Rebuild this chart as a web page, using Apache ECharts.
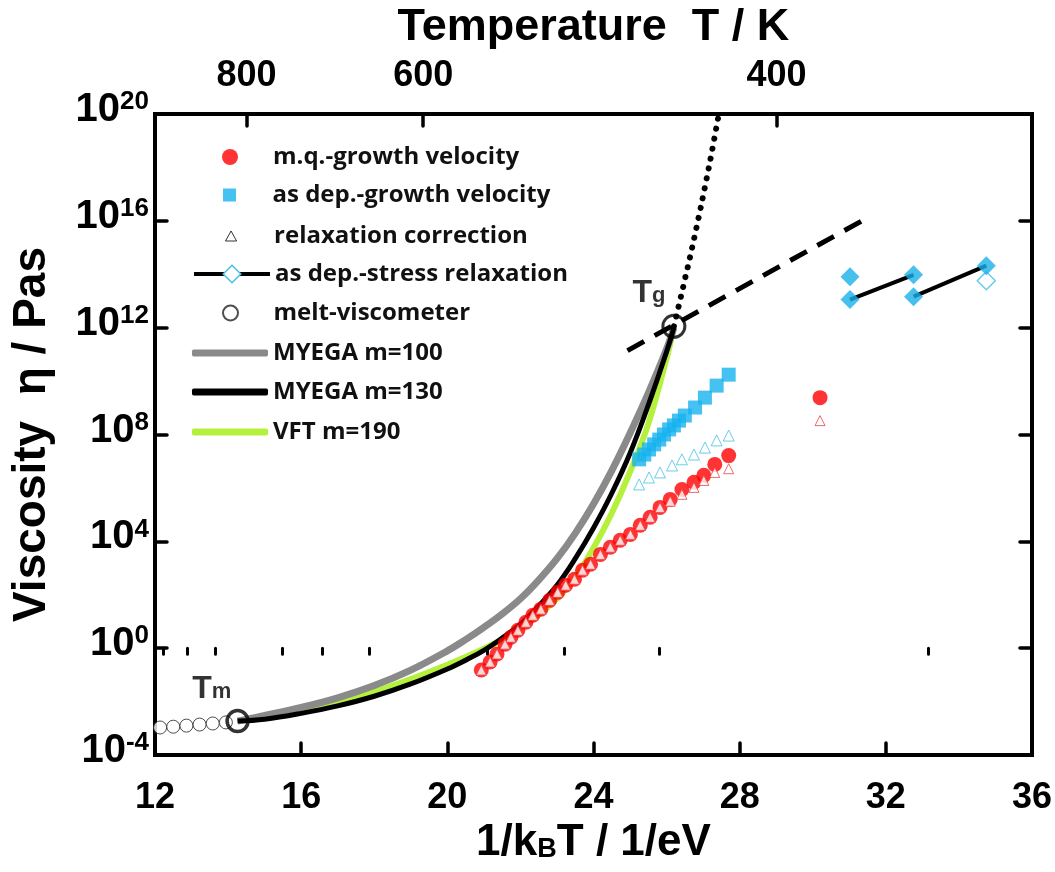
<!DOCTYPE html>
<html>
<head>
<meta charset="utf-8">
<script src="https://cdn.jsdelivr.net/npm/echarts@6.0.0/dist/echarts.min.js"></script>
<style>
  html, body { margin: 0; padding: 0; background: #fff; }
  #chart { width: 1055px; height: 872px; }
</style>
</head>
<body>
<div id="chart"></div>
<script>
// x values are 1/kBT in 1/eV, y values are log10 of the viscosity in Pa s

// melt-viscometer
const meltX = [12.14, 12.50, 12.86, 13.22, 13.58, 13.94];
const meltLog = [-2.97, -2.94, -2.90, -2.86, -2.82, -2.78];

// Tm and Tg markers
const tmPoint = [14.26, -2.73];
const tgPoint = [26.20, 12.05];

// model curves
const curveX = [14.26, 15, 16, 17, 18, 19, 20, 20.5, 21, 21.5, 22, 22.5, 23, 23.5, 24, 24.5, 25, 25.5, 26, 26.2];
const myega100Log = [-2.73, -2.52, -2.22, -1.86, -1.40, -0.82, -0.10, 0.32, 0.78, 1.28, 1.85, 2.55, 3.35, 4.30, 5.40, 6.65, 8.05, 9.55, 11.20, 12.0];
const myega130Log = [-2.73, -2.66, -2.44, -2.16, -1.80, -1.34, -0.78, -0.45, -0.08, 0.38, 0.90, 1.58, 2.35, 3.35, 4.50, 5.80, 7.30, 9.10, 11.10, 12.0];
const vft190Log = [-2.73, -2.60, -2.36, -2.04, -1.64, -1.16, -0.62, -0.33, -0.02, 0.33, 0.75, 1.25, 1.85, 2.65, 3.75, 5.05, 6.60, 8.40, 10.85, 12.0];

// extrapolations through Tg
const dottedX = [26.20, 26.45, 26.70, 26.95, 27.20, 27.43];
const dottedLog = [12.05, 13.5, 15.0, 16.6, 18.3, 20.0];
const dashedX = [24.93, 31.40];
const dashedLog = [11.14, 16.04];

// m.q.-growth velocity and its relaxation correction
const mqX = [20.93, 21.17, 21.36, 21.58, 21.74, 21.93, 22.15, 22.34, 22.56, 22.80, 23.02, 23.24, 23.48, 23.70, 23.92,
  24.19, 24.46, 24.73, 25.01, 25.28, 25.55, 25.82, 26.10, 26.42, 26.75, 27.02, 27.32, 27.70, 30.20];
const mqLog = [-0.82, -0.52, -0.22, 0.15, 0.41, 0.67, 0.97, 1.23, 1.46, 1.79, 2.09, 2.36, 2.58, 2.92, 3.14,
  3.51, 3.78, 4.04, 4.26, 4.60, 4.90, 5.27, 5.57, 5.94, 6.21, 6.47, 6.88, 7.21, 9.38];
const mqRelaxLog = [-0.82, -0.52, -0.22, 0.15, 0.41, 0.67, 0.97, 1.23, 1.46, 1.79, 2.09, 2.36, 2.58, 2.92, 3.14,
  3.51, 3.78, 4.04, 4.26, 4.60, 4.90, 5.27, 5.50, 5.76, 6.02, 6.28, 6.58, 6.72, 8.52];

// as dep.-growth velocity and its relaxation correction
const asDepX = [25.25, 25.39, 25.52, 25.66, 25.80, 25.93, 26.07, 26.20, 26.34, 26.50, 26.78, 27.05, 27.37, 27.70];
const asDepLog = [7.07, 7.25, 7.44, 7.63, 7.81, 8.00, 8.19, 8.34, 8.52, 8.71, 9.01, 9.38, 9.83, 10.24];
const asDepRelaxX = [25.25, 25.52, 25.82, 26.15, 26.42, 26.75, 27.05, 27.37, 27.70];
const asDepRelaxLog = [6.13, 6.39, 6.58, 6.84, 7.07, 7.25, 7.51, 7.78, 7.96];

// as dep.-stress relaxation
const stressX = [31.02, 31.02, 32.76, 32.76, 34.75];
const stressLog = [13.91, 13.05, 13.98, 13.16, 14.32];
const stressOpenX = [34.75];
const stressOpenLog = [13.76];
const stressSeg1X = [31.02, 32.76];
const stressSeg1Log = [13.05, 13.98];
const stressSeg2X = [32.76, 34.75];
const stressSeg2Log = [13.16, 14.32];

// axis ticks
const bottomTicks = [12, 16, 20, 24, 28, 32, 36];
const logTicks = [-4, 0, 4, 8, 12, 16, 20];
const tempMajor = [800, 600, 400];
const tempMinor = [950, 900, 850, 750, 700, 650, 550, 500, 450, 350];

const kB = 8.617333e-5;
const invT = t => 1 / (kB * t);
const pairs = (xs, ys) => xs.map((x, i) => [x, ys[i]]);

const axisFont = '"Liberation Sans", Arial, sans-serif';
const legendFont = '"Open Sans", Lato, sans-serif';

const RED = '#ff0000';
const BLUE = '#17b3ef';
const CYAN = '#45c1e6';
const GRAY = '#8a8a8a';
const GREEN = '#b4f03c';

const frameLine = { show: true, onZero: false, lineStyle: { color: '#000', width: 4, cap: 'square' } };
const tickStyle = { color: '#000', width: 3.5, cap: 'round' };

let myChart = echarts.init(document.getElementById('chart'));

// one legend per row so each marker gets its own size;
// symbol rows are placed by their symbol box, line rows by the full line
const legendRow = (name, left, top, h, extra) => Object.assign({
  show: true,
  left: left,
  top: top,
  orient: 'vertical',
  padding: 0,
  itemWidth: 76,
  itemHeight: h,
  selectedMode: false,
  textStyle: { fontFamily: legendFont, fontWeight: 'bold', fontSize: 24, color: '#111', lineHeight: 28 },
  data: [name]
}, extra || {});

myChart.setOption({
  animation: false,
  backgroundColor: '#fff',
  grid: { left: 155, right: 17, top: 111, bottom: 117 },
  legend: [
    legendRow('m.q.-growth velocity', 222, 143, 16),
    legendRow('as dep.-growth velocity', 223, 181, 13, { data: [{ name: 'as dep.-growth velocity', icon: 'path://M0,0L10,0L10,10L0,10Z' }] }),
    legendRow('relaxation correction', 225, 222, 10, {
      data: [{ name: 'relaxation correction', icon: 'path://M5,0L10,9L0,9Z',
        itemStyle: { color: '#fff', borderColor: '#000', borderWidth: 1 } }]
    }),
    legendRow('as dep.-stress relaxation', 192, 260, 22, {
      data: [{ name: 'as dep.-stress relaxation',
        itemStyle: { color: '#fff', borderColor: CYAN, borderWidth: 1.5 },
        lineStyle: { color: '#000', width: 4 } }]
    }),
    legendRow('melt-viscometer', 222, 299, 15),
    legendRow('MYEGA m=100', 192, 339, 7, { data: [{ name: 'MYEGA m=100', icon: 'roundRect' }] }),
    legendRow('MYEGA m=130', 192, 378, 7, { data: [{ name: 'MYEGA m=130', icon: 'roundRect' }] }),
    legendRow('VFT m=190', 192, 418, 7, { data: [{ name: 'VFT m=190', icon: 'roundRect' }] })
  ],
  xAxis: [
    {
      type: 'value', position: 'bottom', min: 12, max: 36, interval: 4,
      axisLine: frameLine,
      axisTick: { inside: true, length: 12, lineStyle: tickStyle },
      splitLine: { show: false },
      axisLabel: { margin: 25, fontFamily: axisFont, fontWeight: 'bold', fontSize: 36, color: '#000',
        customValues: bottomTicks },
      name: '{a|1/k}{sub|B}{a|T / 1/eV}',
      nameLocation: 'middle', nameGap: 66,
      nameTextStyle: {
        rich: {
          a: { fontFamily: axisFont, fontWeight: 'bold', fontSize: 44, color: '#000', padding: [0, 0, 14, 0] },
          sub: { fontFamily: axisFont, fontWeight: 'bold', fontSize: 27, color: '#000' }
        }
      }
    },
    {
      // major temperature ticks with labels
      type: 'value', position: 'top', min: 12, max: 36,
      axisLine: frameLine,
      axisTick: { inside: true, length: 12, lineStyle: tickStyle, customValues: tempMajor.map(invT) },
      splitLine: { show: false },
      axisLabel: {
        margin: 20, fontFamily: axisFont, fontWeight: 'bold', fontSize: 36, color: '#000',
        customValues: tempMajor.map(invT),
        formatter: v => String(Math.round(1 / (kB * v)))
      },
      name: 'Temperature  T / K',
      nameLocation: 'middle', nameGap: 64,
      nameTextStyle: { fontFamily: axisFont, fontWeight: 'bold', fontSize: 45, color: '#000' }
    },
    {
      // minor temperature ticks
      type: 'value', position: 'top', min: 12, max: 36,
      axisLine: { show: false },
      axisTick: { inside: true, length: 6, lineStyle: { color: '#000', width: 3, cap: 'round' },
        customValues: tempMinor.map(invT) },
      splitLine: { show: false },
      axisLabel: { show: false }
    }
  ],
  yAxis: [
    {
      type: 'value', position: 'left', min: -4, max: 20, interval: 4,
      axisLine: frameLine,
      axisTick: { inside: true, length: 12, lineStyle: tickStyle },
      splitLine: { show: false },
      axisLabel: {
        margin: 6,
        customValues: logTicks,
        formatter: v => '{b|10}{sup|' + v + '}',
        rich: {
          b: { fontFamily: axisFont, fontWeight: 'bold', fontSize: 40, color: '#000', padding: [0, 0, 8, 0] },
          sup: { fontFamily: axisFont, fontWeight: 'bold', fontSize: 26, color: '#000', padding: [0, 0, 24, 0] }
        }
      },
      name: 'Viscosity  η / Pas',
      nameLocation: 'middle', nameGap: 100, nameRotate: 90,
      nameTextStyle: { fontFamily: axisFont, fontWeight: 'bold', fontSize: 46, color: '#000' }
    },
    {
      type: 'value', position: 'right', min: -4, max: 20, interval: 4,
      axisLine: frameLine,
      axisTick: { inside: true, length: 12, lineStyle: tickStyle },
      splitLine: { show: false },
      axisLabel: { show: false }
    }
  ],
  series: [
    {
      name: 'VFT m=190', type: 'line', data: pairs(curveX, vft190Log), smooth: 0.4, symbol: 'none',
      lineStyle: { color: GREEN, width: 6 }, itemStyle: { color: GREEN }, z: 2
    },
    {
      name: 'MYEGA m=100', type: 'line', data: pairs(curveX, myega100Log), smooth: 0.4, symbol: 'none',
      lineStyle: { color: GRAY, width: 7 }, itemStyle: { color: GRAY }, z: 2
    },
    {
      name: 'MYEGA m=130', type: 'line', data: pairs(curveX, myega130Log), smooth: 0.4, symbol: 'none',
      lineStyle: { color: '#000', width: 5 }, itemStyle: { color: '#000' }, z: 2
    },
    {
      name: 'VFT extrapolation', type: 'line', data: pairs(dottedX, dottedLog), smooth: 0.3, symbol: 'none',
      lineStyle: { color: '#000', width: 6, type: [0.1, 10], cap: 'round' }, z: 2
    },
    {
      name: 'glass line', type: 'line', data: pairs(dashedX, dashedLog), symbol: 'none',
      lineStyle: { color: '#000', width: 5, type: [19, 12] }, z: 2
    },
    {
      name: 'melt-viscometer', type: 'scatter', data: pairs(meltX, meltLog), symbol: 'circle', symbolSize: 13,
      itemStyle: { color: '#fff', borderColor: '#222', borderWidth: 1 }, z: 3
    },
    {
      name: 'as dep.-growth velocity', type: 'scatter', data: pairs(asDepX, asDepLog), symbol: 'rect', symbolSize: 14,
      itemStyle: { color: BLUE }, z: 4
    },
    {
      name: 'relaxation correction as dep.', type: 'scatter', data: pairs(asDepRelaxX, asDepRelaxLog),
      symbol: 'triangle', symbolSize: 11,
      itemStyle: { color: '#fff', borderColor: CYAN, borderWidth: 1 }, z: 4
    },
    {
      name: 'm.q.-growth velocity', type: 'scatter', data: pairs(mqX, mqLog), symbol: 'circle', symbolSize: 15,
      itemStyle: { color: RED }, z: 5
    },
    {
      name: 'relaxation correction', type: 'scatter', data: pairs(mqX, mqRelaxLog), symbol: 'triangle', symbolSize: 10,
      itemStyle: { color: '#fff', borderColor: '#e8454a', borderWidth: 1 }, z: 6
    },
    {
      name: 'as dep.-stress relaxation', type: 'line', data: pairs(stressSeg1X, stressSeg1Log),
      symbol: 'diamond', showSymbol: false,
      lineStyle: { color: '#000', width: 4 }, itemStyle: { color: CYAN }, z: 4
    },
    {
      name: 'stress segment 2', type: 'line', data: pairs(stressSeg2X, stressSeg2Log), symbol: 'none',
      lineStyle: { color: '#000', width: 4 }, z: 4
    },
    {
      name: 'stress relaxation points', type: 'scatter', data: pairs(stressX, stressLog), symbol: 'diamond', symbolSize: 19,
      itemStyle: { color: '#1ab0ea' }, z: 5
    },
    {
      name: 'stress relaxation open', type: 'scatter', data: pairs(stressOpenX, stressOpenLog), symbol: 'diamond', symbolSize: 18,
      itemStyle: { color: '#fff', borderColor: CYAN, borderWidth: 1.5 }, z: 4
    },
    {
      name: 'Tm', type: 'scatter', data: [tmPoint], symbol: 'circle', symbolSize: 21,
      itemStyle: { color: 'rgba(255,255,255,0)', borderColor: '#000', borderWidth: 3.5 }, z: 7,
      label: {
        show: true, position: [6, 2], align: 'right', verticalAlign: 'bottom',
        formatter: '{t|T}{s|m}',
        rich: {
          t: { fontFamily: axisFont, fontWeight: 'bold', fontSize: 32, color: '#000', padding: [0, 0, 6, 0] },
          s: { fontFamily: axisFont, fontWeight: 'bold', fontSize: 22, color: '#000' }
        }
      }
    },
    {
      name: 'Tg', type: 'scatter', data: [tgPoint], symbol: 'circle', symbolSize: 22,
      itemStyle: { color: 'rgba(255,255,255,0)', borderColor: '#000', borderWidth: 3 }, z: 7,
      label: {
        show: true, position: [4, 1], align: 'right', verticalAlign: 'bottom',
        formatter: '{t|T}{s|g}',
        rich: {
          t: { fontFamily: axisFont, fontWeight: 'bold', fontSize: 32, color: '#000', padding: [0, 0, 6, 0] },
          s: { fontFamily: axisFont, fontWeight: 'bold', fontSize: 22, color: '#000' }
        }
      }
    }
  ]
})
</script>
</body>
</html>
